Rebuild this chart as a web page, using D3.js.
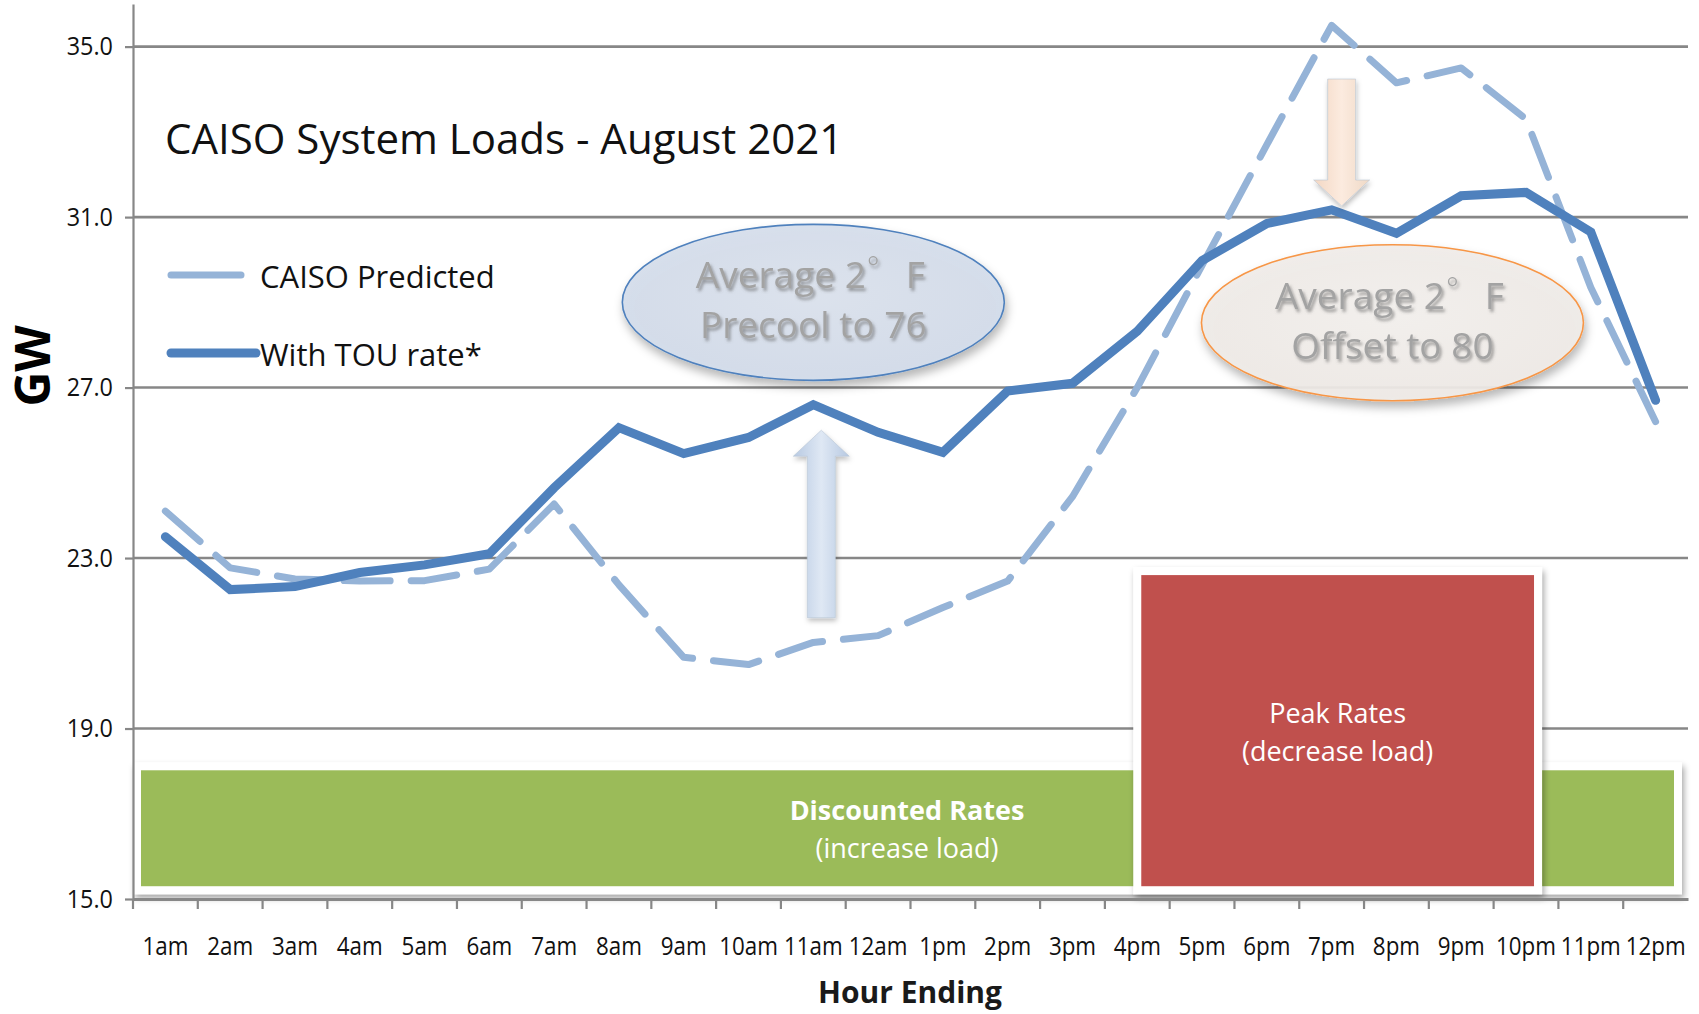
<!DOCTYPE html>
<html>
<head>
<meta charset="utf-8">
<script src="https://cdn.jsdelivr.net/npm/d3@7"></script>
<style>
html,body{margin:0;padding:0;background:#fff;}
svg{display:block;}
text{font-family:"Open Sans",sans-serif;}
</style>
</head>
<body>
<svg id="chart" width="1699" height="1014"></svg>
<script>
// ---------- DATA ----------
const hours = ["1am","2am","3am","4am","5am","6am","7am","8am","9am","10am","11am","12am",
               "1pm","2pm","3pm","4pm","5pm","6pm","7pm","8pm","9pm","10pm","11pm","12pm"];
const caisoPredicted = [24.1, 22.77, 22.51, 22.46, 22.47, 22.74, 24.27, 22.37, 20.67, 20.5, 21.02, 21.18,
                        21.84, 22.46, 24.44, 27.0, 29.87, 32.7, 35.5, 34.15, 34.5, 33.3, 29.35, 26.2];
const withTOU = [23.5, 22.26, 22.33, 22.66, 22.84, 23.1, 24.65, 26.06, 25.45, 25.83, 26.6, 25.95,
                 25.48, 26.92, 27.1, 28.32, 29.98, 30.85, 31.17, 30.62, 31.5, 31.58, 30.65, 26.7];
const seriesNames = ["CAISO Predicted", "With TOU rate*"];
const yTicks = [15, 19, 23, 27, 31, 35];
const yDomain = [15, 36];
const titleText = "CAISO System Loads - August 2021";
const yLabel = "GW";
const xLabel = "Hour Ending";
const rateLabels = ["Discounted Rates", "(increase load)", "Peak Rates", "(decrease load)"];
const noteLines = [["Average 2", "°", "F", "Precool to 76"], ["Average 2", "°", "F", "Offset to 80"]];

// ---------- LAYOUT ----------
const svg = d3.select("#chart");
const plotL = 133, plotR = 1688, plotT = 4, plotB = 899;
const x = d3.scaleBand().domain(hours).range([plotL, plotR]).padding(0);
const y = d3.scaleLinear().domain(yDomain).range([plotB, plotT]);
const bw = x.bandwidth();
const xc = h => x(h) + bw / 2;

const darkBlue = "#4f81bd", lightBlue = "#95b3d7", gridC = "#878787";

function squeeze(sel, f) {
  sel.each(function () {
    const w = this.getComputedTextLength();
    this.setAttribute("textLength", w * f);
    this.setAttribute("lengthAdjust", "spacingAndGlyphs");
  });
}

// defs
const defs = svg.append("defs");
const sh = defs.append("filter").attr("id", "boxShadow").attr("x", "-5%").attr("y", "-5%").attr("width", "112%").attr("height", "115%");
sh.append("feDropShadow").attr("dx", 2).attr("dy", 4).attr("stdDeviation", 3).attr("flood-color", "#000").attr("flood-opacity", 0.35);
const esh = defs.append("filter").attr("id", "ellShadow").attr("x", "-10%").attr("y", "-10%").attr("width", "125%").attr("height", "135%");
esh.append("feDropShadow").attr("dx", 2).attr("dy", 6).attr("stdDeviation", 5).attr("flood-color", "#000").attr("flood-opacity", 0.3);
const tsh = defs.append("filter").attr("id", "txtShadow").attr("x", "-10%").attr("y", "-20%").attr("width", "130%").attr("height", "160%");
tsh.append("feDropShadow").attr("dx", 2).attr("dy", 3).attr("stdDeviation", 1.6).attr("flood-color", "#555").attr("flood-opacity", 0.55);
const ash = defs.append("filter").attr("id", "arrShadow").attr("x", "-50%").attr("y", "-10%").attr("width", "200%").attr("height", "130%");
ash.append("feDropShadow").attr("dx", 1).attr("dy", 3).attr("stdDeviation", 2.5).attr("flood-color", "#000").attr("flood-opacity", 0.25);

const gBlue = defs.append("linearGradient").attr("id", "gBlue").attr("x1", 0).attr("x2", 1).attr("y1", 0).attr("y2", 0);
gBlue.append("stop").attr("offset", "0%").attr("stop-color", "#b7c9e2");
gBlue.append("stop").attr("offset", "50%").attr("stop-color", "#dfe8f4");
gBlue.append("stop").attr("offset", "100%").attr("stop-color", "#b7c9e2");
const gPeach = defs.append("linearGradient").attr("id", "gPeach").attr("x1", 0).attr("x2", 1).attr("y1", 0).attr("y2", 0);
gPeach.append("stop").attr("offset", "0%").attr("stop-color", "#f3d7c3");
gPeach.append("stop").attr("offset", "50%").attr("stop-color", "#fcebdf");
gPeach.append("stop").attr("offset", "100%").attr("stop-color", "#efd9c6");
const gEllB = defs.append("radialGradient").attr("id", "gEllB").attr("cx", "50%").attr("cy", "45%").attr("r", "60%");
gEllB.append("stop").attr("offset", "0%").attr("stop-color", "#dce3ee");
gEllB.append("stop").attr("offset", "100%").attr("stop-color", "#d2dbea");
const gEllO = defs.append("radialGradient").attr("id", "gEllO").attr("cx", "50%").attr("cy", "45%").attr("r", "60%");
gEllO.append("stop").attr("offset", "0%").attr("stop-color", "#f4f1ee");
gEllO.append("stop").attr("offset", "100%").attr("stop-color", "#efeae6");

// ---------- GRIDLINES ----------
svg.append("g").selectAll("line").data(yTicks.filter(t => t > yDomain[0])).join("line")
  .attr("x1", plotL).attr("x2", plotR)
  .attr("y1", d => y(d)).attr("y2", d => y(d))
  .attr("stroke", gridC).attr("stroke-width", 2.6);

// ---------- ELLIPSES ----------
const ellipses = [
  { h: "11am", v: 29.0, fill: "url(#gEllB)", stroke: darkBlue, lines: noteLines[0] },
  { h: "8pm", v: 28.52, fill: "url(#gEllO)", stroke: "#f79646", lines: noteLines[1] }
];
const eg = svg.append("g");
ellipses.forEach(e => {
  const cx = xc(e.h) - (e.h === "8pm" ? 4 : 0), cy = y(e.v);
  eg.append("ellipse").attr("cx", cx).attr("cy", cy).attr("rx", 191).attr("ry", 78)
    .attr("fill", e.fill).attr("fill-opacity", 0.92).attr("stroke", e.stroke).attr("stroke-width", 1.6)
    .attr("filter", "url(#ellShadow)");
  const t1 = eg.append("text").attr("x", cx - 3).attr("y", cy - 14).attr("text-anchor", "middle")
    .attr("font-size", 37).attr("fill", "#a3a3a3").attr("filter", "url(#txtShadow)");
  t1.append("tspan").text(e.lines[0]);
  t1.append("tspan").attr("font-size", 30).attr("font-weight", 300).attr("dy", -10).attr("dx", 1).text(e.lines[1]);
  t1.append("tspan").attr("dy", 10).attr("dx", 26).text(e.lines[2]);
  eg.append("text").attr("x", cx).attr("y", cy + 36).attr("text-anchor", "middle")
    .attr("font-size", 37).attr("fill", "#a3a3a3").attr("filter", "url(#txtShadow)")
    .text(e.lines[3]);
});

// ---------- LINES ----------
const line = d3.line().x((d, i) => xc(hours[i])).y(d => y(d));
svg.append("path").datum(caisoPredicted).attr("d", line)
  .attr("fill", "none").attr("stroke", lightBlue).attr("stroke-width", 7)
  .attr("stroke-linecap", "round").attr("stroke-linejoin", "round")
  .attr("stroke-dasharray", "46,21");
svg.append("path").datum(withTOU).attr("d", line)
  .attr("fill", "none").attr("stroke", darkBlue).attr("stroke-width", 9)
  .attr("stroke-linecap", "round").attr("stroke-linejoin", "miter");

// ---------- ARROWS ----------
function arrow(cx, yTail, yTip, fill) {
  const sw = 14, hw = 28, hl = 26;
  const dir = yTip < yTail ? -1 : 1;
  const yNeck = yTip - dir * hl;
  const pts = [[cx - sw, yTail], [cx - sw, yNeck], [cx - hw, yNeck], [cx, yTip], [cx + hw, yNeck], [cx + sw, yNeck], [cx + sw, yTail]];
  svg.append("path").attr("d", "M" + pts.map(p => p.join(",")).join("L") + "Z")
    .attr("fill", fill).attr("stroke", "#b8c4d4").attr("stroke-opacity", 0.6).attr("stroke-width", 1)
    .attr("filter", "url(#arrShadow)");
}
arrow(xc("11am") + 8, y(21.6), y(26.0), "url(#gBlue)");
arrow(xc("7pm") + 10, y(34.24), y(31.26), "url(#gPeach)");

// ---------- RATE BOXES ----------
const boxes = [
  { x0: x(hours[0]), x1: x(hours[23]) + bw - 6, top: 18.02, bot: 15.3, fill: "#9bbb59", label: rateLabels[0], sub: rateLabels[1], bold: true, tx: 907, ty1: 810, ty2: 848 },
  { x0: xc("4pm") - 4, x1: xc("10pm") + 16, top: 22.6, bot: 15.3, fill: "#c0504d", label: rateLabels[2], sub: rateLabels[3], bold: false, tx: null, ty1: 713, ty2: 751 }
];
const bg = svg.append("g");
boxes.forEach(b => {
  const pad = 8;
  bg.append("rect").attr("x", b.x0).attr("y", y(b.top) - pad).attr("width", b.x1 - b.x0)
    .attr("height", y(b.bot) - y(b.top) + 2 * pad)
    .attr("fill", "#fff").attr("filter", "url(#boxShadow)");
  bg.append("rect").attr("x", b.x0 + pad).attr("y", y(b.top)).attr("width", b.x1 - b.x0 - 2 * pad)
    .attr("height", y(b.bot) - y(b.top)).attr("fill", b.fill);
  const tx = b.tx !== null ? b.tx : (b.x0 + b.x1) / 2;
  bg.append("text").attr("x", tx).attr("y", b.ty1).attr("dy", "0.36em").attr("text-anchor", "middle")
    .attr("font-size", 27).attr("font-weight", b.bold ? 700 : 400).attr("fill", "#fff").text(b.label);
  bg.append("text").attr("x", tx).attr("y", b.ty2).attr("dy", "0.36em").attr("text-anchor", "middle")
    .attr("font-size", 27).attr("fill", "#fff").text(b.sub);
});

// ---------- AXES ----------
const yAxis = svg.append("g").attr("transform", `translate(${plotL},0)`)
  .call(d3.axisLeft(y).tickValues(yTicks).tickFormat(d3.format(".1f")).tickSize(8).tickSizeOuter(0).tickPadding(12));
yAxis.select(".domain").attr("stroke", gridC).attr("stroke-width", 2.2);
yAxis.selectAll(".tick line").attr("stroke", gridC).attr("stroke-width", 2.2);
yAxis.selectAll(".tick text").attr("font-size", 26).attr("fill", "#111").attr("font-family", "'Open Sans',sans-serif");
squeeze(yAxis.selectAll(".tick text"), 0.9);

const xAxis = svg.append("g").attr("transform", `translate(0,${plotB})`)
  .call(d3.axisBottom(x).tickSize(0).tickPadding(38).tickSizeOuter(0));
xAxis.select(".domain").attr("stroke", gridC).attr("stroke-width", 3);
xAxis.selectAll(".tick text").attr("font-size", 26).attr("fill", "#111").attr("font-family", "'Open Sans',sans-serif");
squeeze(xAxis.selectAll(".tick text"), 0.86);
xAxis.append("g").selectAll("line").data(hours).join("line")
  .attr("x1", d => x(d)).attr("x2", d => x(d)).attr("y1", 0).attr("y2", 10)
  .attr("stroke", gridC).attr("stroke-width", 2.2);

// axis titles
svg.append("text").attr("x", 910).attr("y", 992).attr("dy", "0.36em").attr("text-anchor", "middle")
  .attr("font-size", 30).attr("font-weight", 700).attr("fill", "#1a1a1a").text(xLabel);
svg.append("text").attr("transform", "translate(33,366) rotate(-90)").attr("dy", "0.36em").attr("text-anchor", "middle")
  .attr("font-family", "'Liberation Sans',Arial,sans-serif").attr("font-size", 48).attr("font-weight", 700)
  .attr("fill", "#000").text(yLabel);

// ---------- TITLE ----------
svg.append("text").attr("x", 165).attr("y", 154).attr("font-size", 42).attr("fill", "#111").text(titleText);

// ---------- LEGEND ----------
const legend = svg.append("g");
const legendItems = [
  { name: seriesNames[0], color: lightBlue, w: 7, x1: 171, x2: 241, y: 275 },
  { name: seriesNames[1], color: darkBlue, w: 9, x1: 171, x2: 256, y: 353 }
];
legendItems.forEach(l => {
  legend.append("line").attr("x1", l.x1).attr("x2", l.x2).attr("y1", l.y).attr("y2", l.y)
    .attr("stroke", l.color).attr("stroke-width", l.w).attr("stroke-linecap", "round");
  legend.append("text").attr("x", 260).attr("y", l.y + 2).attr("dy", "0.36em")
    .attr("font-size", 31).attr("fill", "#111").text(l.name);
});
</script>
</body>
</html>
